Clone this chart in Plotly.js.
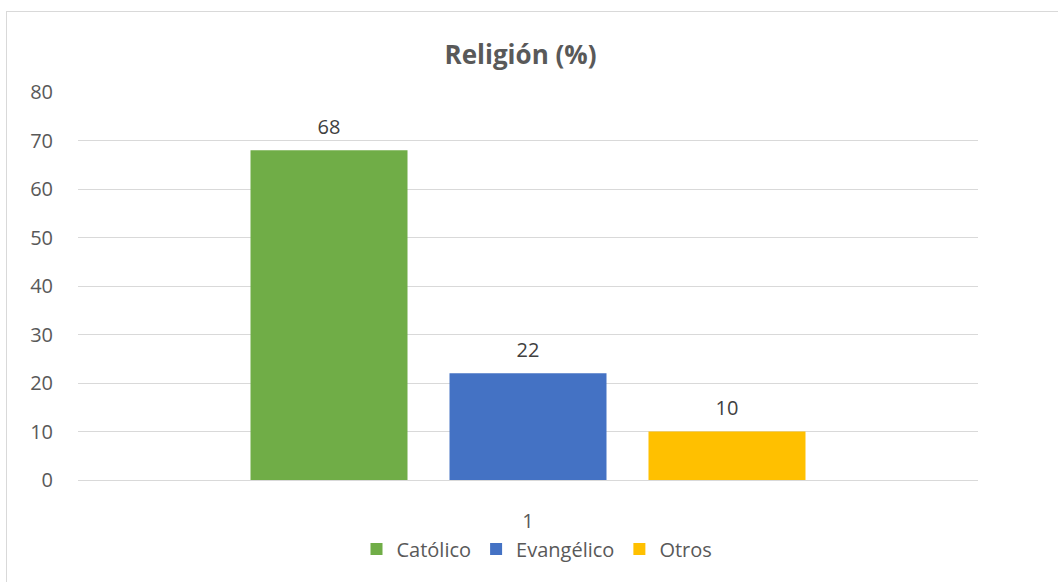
<!DOCTYPE html>
<html>
<head>
<meta charset="utf-8">
<script src="https://cdn.plot.ly/plotly-3.0.1.min.js"></script>
<style>
html,body{margin:0;padding:0;background:#fff;}
#wrap{position:relative;width:1058px;height:582px;}
#chart{width:1058px;height:582px;}
#frame{position:absolute;left:6px;top:11px;width:1100px;height:600px;border-left:1px solid #d9d9d9;border-top:1px solid #d9d9d9;pointer-events:none;}
</style>
</head>
<body>
<div id="wrap"><div id="chart"></div><div id="frame"></div></div>
<script>
var categories = ["1"];
var seriesNames = ["Católico", "Evangélico", "Otros"];
var catolico = [68];
var evangelico = [22];
var otros = [10];
var colors = ["#70AD47", "#4472C4", "#FFC000"];
var values = [catolico, evangelico, otros];

var font = "Open Sans, Liberation Sans, sans-serif";
var traces = values.map(function(v, i){
  return {
    type: "bar",
    x: categories,
    y: v,
    name: seriesNames[i],
    offsetgroup: String(i),
    marker: {color: colors[i]}
  };
});
var labelTraces = values.map(function(v, i){
  return {
    type: "scatter",
    mode: "markers+text",
    x: categories,
    y: v,
    offsetgroup: String(i),
    text: v.map(String),
    textposition: "top center",
    textfont: {family: font, size: 20, color: "#404040"},
    marker: {size: 17, opacity: 0, color: colors[i]},
    showlegend: false,
    cliponaxis: false,
    hoverinfo: "skip"
  };
});

var layout = {
  width: 1058, height: 582,
  margin: {l: 78, r: 80, t: 92, b: 102},
  paper_bgcolor: "#fff", plot_bgcolor: "#fff",
  title: {text: "<b>Religión (%)</b>", x: 0.492, xanchor: "center", y: 0.905, yanchor: "middle",
          font: {family: font, size: 26, color: "#595959"}},
  barmode: "group",
  scattermode: "group",
  bargap: 0.3367,
  bargroupgap: 0.211,
  xaxis: {type: "category", range: [-0.5, 0.5], showgrid: false, zeroline: false,
          showline: false, ticks: "", tickfont: {family: font, size: 20, color: "#595959"},
          ticklabelstandoff: 27, fixedrange: true},
  yaxis: {range: [0, 80], dtick: 10, showgrid: true, gridcolor: "#d9d9d9", gridwidth: 1,
          zeroline: true, zerolinecolor: "#d9d9d9", zerolinewidth: 1, showline: false,
          tickfont: {family: font, size: 20, color: "#595959"}, ticks: "", ticklabelstandoff: 24,
          fixedrange: true},
  legend: {orientation: "h", x: 0.51, xanchor: "center", y: -0.178, yanchor: "middle",
           font: {family: font, size: 20, color: "#595959"}, itemclick: false, traceorder: "normal",
           itemwidth: 30},
  showlegend: true
};

Plotly.newPlot("chart", traces.concat(labelTraces), layout, {displayModeBar: false, staticPlot: true});
</script>
</body>
</html>
